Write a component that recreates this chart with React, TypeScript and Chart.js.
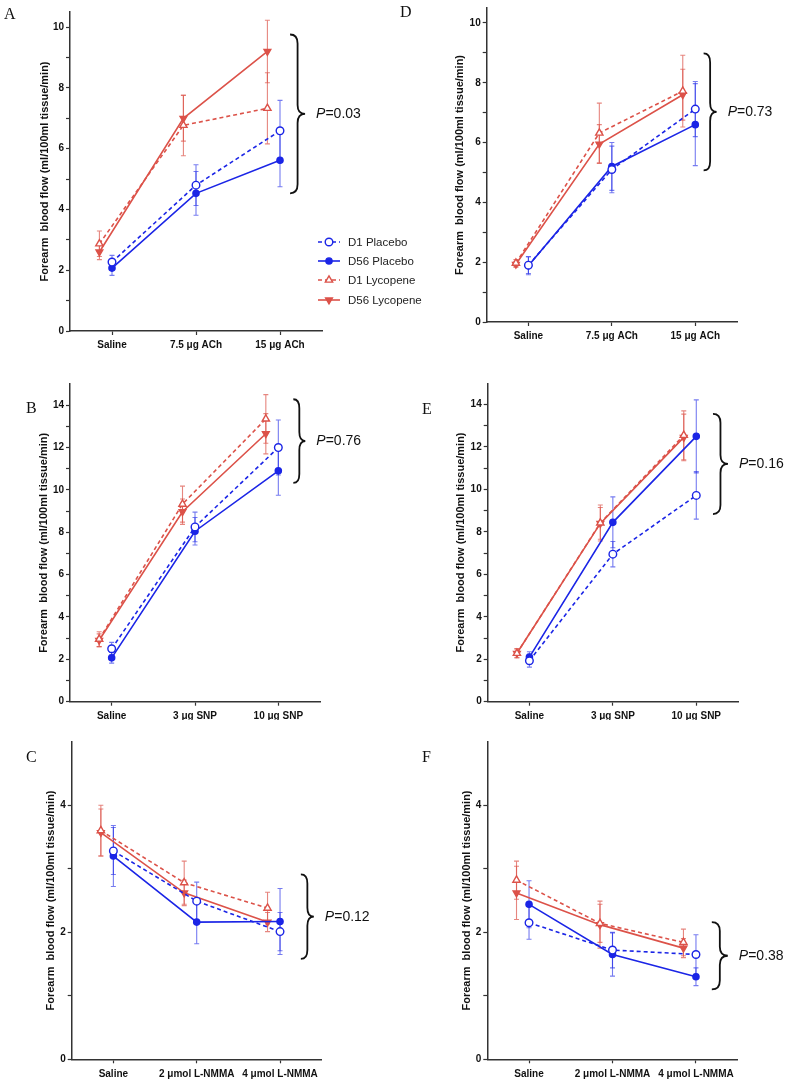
import React, { useEffect, useRef } from 'react';
import { Chart, registerables } from 'chart.js';

Chart.register(...registerables);

// ---------- data ----------
const SERIES_NAMES = ['D1 Placebo', 'D56 Placebo', 'D1 Lycopene', 'D56 Lycopene'];
const CATS_ACH = ['Saline', '7.5 μg ACh', '15 μg ACh'];
const CATS_SNP = ['Saline', '3 μg SNP', '10 μg SNP'];
const CATS_NMMA = ['Saline', '2 μmol L-NMMA', '4 μmol L-NMMA'];
const Y_TICKS_10 = [0, 1, 2, 3, 4, 5, 6, 7, 8, 9, 10];
const Y_TICKS_14 = [0, 1, 2, 3, 4, 5, 6, 7, 8, 9, 10, 11, 12, 13, 14];
const Y_TICKS_4 = [0, 1, 2, 3, 4];
const Y_TITLE = 'Forearm  blood flow (ml/100ml tissue/min)';

// Panel A (ACh, cohort 1)
const A_D1_PLACEBO = [2.27, 4.8, 6.59];
const A_D56_PLACEBO = [2.07, 4.53, 5.62];
const A_D1_LYCOPENE = [2.87, 6.77, 7.33];
const A_D56_LYCOPENE = [2.6, 7.0, 9.2];
const A_ERR_D1_PLACEBO = [0.22, 0.67, 1.0];
const A_ERR_D56_PLACEBO = [0.24, 0.72, 0.87];
const A_ERR_D1_LYCOPENE = [0.42, 1.0, 1.17];
const A_ERR_D56_LYCOPENE = [0.25, 0.75, 1.03];
const A_BRACE = [4.53, 9.76];

// Panel B (SNP, cohort 1)
const B_D1_PLACEBO = [2.5, 8.25, 12.0];
const B_D56_PLACEBO = [2.07, 8.05, 10.9];
const B_D1_LYCOPENE = [2.95, 9.33, 13.35];
const B_D56_LYCOPENE = [2.9, 8.97, 12.65];
const B_ERR_D1_PLACEBO = [0.3, 0.7, 1.3];
const B_ERR_D56_PLACEBO = [0.25, 0.65, 1.15];
const B_ERR_D1_LYCOPENE = [0.35, 0.85, 1.15];
const B_ERR_D56_LYCOPENE = [0.3, 0.6, 0.95];
const B_BRACE = [10.33, 14.28];

// Panel C (L-NMMA, cohort 1)
const C_D1_PLACEBO = [3.28, 2.49, 2.01];
const C_D56_PLACEBO = [3.2, 2.16, 2.17];
const C_D1_LYCOPENE = [3.6, 2.78, 2.38];
const C_D56_LYCOPENE = [3.57, 2.62, 2.16];
const C_ERR_D1_PLACEBO = [0.37, 0.3, 0.3];
const C_ERR_D56_PLACEBO = [0.48, 0.34, 0.52];
const C_ERR_D1_LYCOPENE = [0.4, 0.34, 0.25];
const C_ERR_D56_LYCOPENE = [0.37, 0.2, 0.15];
const C_BRACE = [1.58, 2.91];

// Panel D (ACh, cohort 2)
const D_D1_PLACEBO = [1.9, 5.1, 7.12];
const D_D56_PLACEBO = [1.88, 5.2, 6.6];
const D_D1_LYCOPENE = [1.97, 6.32, 7.72];
const D_D56_LYCOPENE = [1.93, 5.95, 7.6];
const D_ERR_D1_PLACEBO = [0.28, 0.78, 0.92];
const D_ERR_D56_PLACEBO = [0.3, 0.8, 1.37];
const D_ERR_D1_LYCOPENE = [0.12, 1.0, 1.2];
const D_ERR_D56_LYCOPENE = [0.1, 0.65, 0.85];
const D_BRACE = [5.07, 8.98];

// Panel E (SNP, cohort 2)
const E_D1_PLACEBO = [1.93, 6.95, 9.72];
const E_D56_PLACEBO = [2.1, 8.45, 12.5];
const E_D1_LYCOPENE = [2.28, 8.42, 12.55];
const E_D56_LYCOPENE = [2.28, 8.4, 12.45];
const E_ERR_D1_PLACEBO = [0.3, 0.6, 1.12];
const E_ERR_D56_PLACEBO = [0.25, 1.2, 1.72];
const E_ERR_D1_LYCOPENE = [0.22, 0.85, 1.15];
const E_ERR_D56_LYCOPENE = [0.2, 0.75, 1.1];
const E_BRACE = [8.84, 13.56];

// Panel F (L-NMMA, cohort 2)
const F_D1_PLACEBO = [2.15, 1.72, 1.65];
const F_D56_PLACEBO = [2.44, 1.65, 1.3];
const F_D1_LYCOPENE = [2.82, 2.14, 1.84];
const F_D56_LYCOPENE = [2.62, 2.12, 1.75];
const F_ERR_D1_PLACEBO = [0.26, 0.28, 0.31];
const F_ERR_D56_PLACEBO = [0.37, 0.34, 0.14];
const F_ERR_D1_LYCOPENE = [0.3, 0.3, 0.21];
const F_ERR_D56_LYCOPENE = [0.42, 0.37, 0.15];
const F_BRACE = [1.1, 2.16];

const P_VALUES = ['0.03', '0.76', '0.12', '0.73', '0.16', '0.38'];
const PANEL_LETTERS = ['A', 'B', 'C', 'D', 'E', 'F'];

// ---------- styles ----------
const BLUE = '#1b25e6';
const RED = '#dc5249';
const BLUE_ERR = 'rgba(27,37,230,0.6)';
const RED_ERR = 'rgba(220,82,73,0.7)';
const SANS = '"Liberation Sans", Arial, sans-serif';
const SERIF = '"Liberation Serif", "Times New Roman", serif';

const SERIES_STYLE = [
  { color: BLUE, err: BLUE_ERR, dash: [4, 3], pointStyle: 'circle', filled: false, radius: 3.8, rotation: 0, dx: 0 },
  { color: BLUE, err: BLUE_ERR, dash: [], pointStyle: 'circle', filled: true, radius: 3.1, rotation: 0, dx: 0 },
  { color: RED, err: RED_ERR, dash: [4, 3], pointStyle: 'triangle', filled: false, radius: 4.2, rotation: 0, dx: -0.15 },
  { color: RED, err: RED_ERR, dash: [], pointStyle: 'triangle', filled: true, radius: 3.9, rotation: 180, dx: -0.15 },
];

type PanelCfg = {
  letter: string;
  cats: string[];
  series: number[][];
  errors: number[][];
  yTicks: number[];
  yMax: number;
  brace: number[];
  p: string;
  x: number; y: number; w: number; h: number;
  left: number; right: number; top: number; bottom: number;
  titleCenter: number;
  braceX: number;
  braceW: number;
  letterX: number; letterY: number;
};

const PANELS: PanelCfg[] = [
  {
    letter: PANEL_LETTERS[0], cats: CATS_ACH,
    series: [A_D1_PLACEBO, A_D56_PLACEBO, A_D1_LYCOPENE, A_D56_LYCOPENE],
    errors: [A_ERR_D1_PLACEBO, A_ERR_D56_PLACEBO, A_ERR_D1_LYCOPENE, A_ERR_D56_LYCOPENE],
    yTicks: Y_TICKS_10, yMax: 10.5, brace: A_BRACE, p: P_VALUES[0],
    x: 0, y: 0, w: 390, h: 360, left: 70, right: 322, top: 12, bottom: 331, titleCenter: 44.5,
    braceX: 2.12, braceW: 15, letterX: 4, letterY: 19,
  },
  {
    letter: PANEL_LETTERS[1], cats: CATS_SNP,
    series: [B_D1_PLACEBO, B_D56_PLACEBO, B_D1_LYCOPENE, B_D56_LYCOPENE],
    errors: [B_ERR_D1_PLACEBO, B_ERR_D56_PLACEBO, B_ERR_D1_LYCOPENE, B_ERR_D56_LYCOPENE],
    yTicks: Y_TICKS_14, yMax: 15, brace: B_BRACE, p: P_VALUES[1],
    x: 0, y: 360, w: 390, h: 360, left: 70, right: 320, top: 24, bottom: 341.7, titleCenter: 43.5,
    braceX: 2.18, braceW: 12, letterX: 26, letterY: 53,
  },
  {
    letter: PANEL_LETTERS[2], cats: CATS_NMMA,
    series: [C_D1_PLACEBO, C_D56_PLACEBO, C_D1_LYCOPENE, C_D56_LYCOPENE],
    errors: [C_ERR_D1_PLACEBO, C_ERR_D56_PLACEBO, C_ERR_D1_LYCOPENE, C_ERR_D56_LYCOPENE],
    yTicks: Y_TICKS_4, yMax: 5, brace: C_BRACE, p: P_VALUES[2],
    x: 0, y: 720, w: 390, h: 366, left: 71.7, right: 321.7, top: 21.7, bottom: 339.3, titleCenter: 51,
    braceX: 2.25, braceW: 13, letterX: 26, letterY: 42,
  },
  {
    letter: PANEL_LETTERS[3], cats: CATS_ACH,
    series: [D_D1_PLACEBO, D_D56_PLACEBO, D_D1_LYCOPENE, D_D56_LYCOPENE],
    errors: [D_ERR_D1_PLACEBO, D_ERR_D56_PLACEBO, D_ERR_D1_LYCOPENE, D_ERR_D56_LYCOPENE],
    yTicks: Y_TICKS_10, yMax: 10.5, brace: D_BRACE, p: P_VALUES[3],
    x: 390, y: 0, w: 395, h: 360, left: 96.7, right: 347, top: 4, bottom: 322, titleCenter: 70.3,
    braceX: 2.1, braceW: 13, letterX: 10, letterY: 17,
  },
  {
    letter: PANEL_LETTERS[4], cats: CATS_SNP,
    series: [E_D1_PLACEBO, E_D56_PLACEBO, E_D1_LYCOPENE, E_D56_LYCOPENE],
    errors: [E_ERR_D1_PLACEBO, E_ERR_D56_PLACEBO, E_ERR_D1_LYCOPENE, E_ERR_D56_LYCOPENE],
    yTicks: Y_TICKS_14, yMax: 15, brace: E_BRACE, p: P_VALUES[4],
    x: 390, y: 360, w: 395, h: 360, left: 97.7, right: 348, top: 23.3, bottom: 341.7, titleCenter: 70.8,
    braceX: 2.2, braceW: 15, letterX: 32, letterY: 54,
  },
  {
    letter: PANEL_LETTERS[5], cats: CATS_NMMA,
    series: [F_D1_PLACEBO, F_D56_PLACEBO, F_D1_LYCOPENE, F_D56_LYCOPENE],
    errors: [F_ERR_D1_PLACEBO, F_ERR_D56_PLACEBO, F_ERR_D1_LYCOPENE, F_ERR_D56_LYCOPENE],
    yTicks: Y_TICKS_4, yMax: 5, brace: F_BRACE, p: P_VALUES[5],
    x: 390, y: 720, w: 395, h: 366, left: 97.3, right: 347.7, top: 21.7, bottom: 339.3, titleCenter: 77,
    braceX: 2.19, braceW: 16, letterX: 32, letterY: 42,
  },
];

function drawBrace(ctx: CanvasRenderingContext2D, x: number, top: number, bot: number, w: number) {
  const mid = (top + bot) / 2;
  const sx = x + w * 0.5;
  const r = Math.min(9, (bot - top) / 6);
  ctx.beginPath();
  ctx.moveTo(x, top);
  ctx.quadraticCurveTo(sx, top, sx, top + r);
  ctx.lineTo(sx, mid - r);
  ctx.quadraticCurveTo(sx, mid, x + w, mid);
  ctx.quadraticCurveTo(sx, mid, sx, mid + r);
  ctx.lineTo(sx, bot - r);
  ctx.quadraticCurveTo(sx, bot, x, bot);
  ctx.stroke();
}

function Panel({ cfg }: { cfg: PanelCfg }) {
  const ref = useRef<HTMLCanvasElement>(null);
  useEffect(() => {
    const datasets = cfg.series.map((vals, si) => {
      const st = SERIES_STYLE[si];
      return {
        label: SERIES_NAMES[si],
        data: vals.map((v, i) => ({ x: i + st.dx, y: v })),
        borderColor: st.color,
        backgroundColor: st.filled ? st.color : '#ffffff',
        borderWidth: 1.6,
        borderDash: st.dash,
        pointStyle: st.pointStyle,
        pointRadius: st.radius,
        pointRotation: st.rotation,
        pointBorderWidth: 1.4,
        pointBorderColor: st.color,
        pointBackgroundColor: st.filled ? st.color : '#ffffff',
        tension: 0,
        showLine: true,
        errs: cfg.errors[si],
        errColor: st.err,
      };
    });

    const annot = {
      id: 'annot',
      beforeDatasetsDraw(chart: any) {
        const ctx = chart.ctx;
        const ys = chart.scales.y;
        ctx.save();
        chart.data.datasets.forEach((ds: any, di: number) => {
          const meta = chart.getDatasetMeta(di);
          ctx.strokeStyle = ds.errColor;
          ctx.lineWidth = 1.1;
          meta.data.forEach((el: any, j: number) => {
            const v = ds.data[j].y;
            const e = ds.errs[j];
            const yt = ys.getPixelForValue(v + e);
            const yb = ys.getPixelForValue(v - e);
            const x = el.x;
            ctx.beginPath();
            ctx.moveTo(x, yt); ctx.lineTo(x, yb);
            ctx.moveTo(x - 2.5, yt); ctx.lineTo(x + 2.5, yt);
            ctx.moveTo(x - 2.5, yb); ctx.lineTo(x + 2.5, yb);
            ctx.stroke();
          });
        });
        ctx.restore();
      },
      afterDraw(chart: any) {
        const ctx = chart.ctx;
        const xs = chart.scales.x;
        const ys = chart.scales.y;
        ctx.save();
        const bx = xs.getPixelForValue(cfg.braceX);
        const top = ys.getPixelForValue(cfg.brace[1]);
        const bot = ys.getPixelForValue(cfg.brace[0]);
        ctx.strokeStyle = '#111';
        ctx.lineWidth = 1.8;
        drawBrace(ctx, bx, top, bot, cfg.braceW);
        const mid = (top + bot) / 2;
        const tx = bx + cfg.braceW + 11;
        ctx.fillStyle = '#111';
        ctx.textBaseline = 'middle';
        ctx.textAlign = 'left';
        ctx.font = `italic 14px ${SANS}`;
        ctx.fillText('P', tx, mid);
        const pw = ctx.measureText('P').width;
        ctx.font = `14px ${SANS}`;
        ctx.fillText('=' + cfg.p, tx + pw, mid);
        ctx.font = `16px ${SERIF}`;
        ctx.textBaseline = 'alphabetic';
        ctx.fillText(cfg.letter, cfg.letterX, cfg.letterY);
        ctx.restore();
      },
    };

    const chart = new Chart(ref.current!, {
      type: 'line',
      data: { datasets: datasets as any },
      plugins: [annot],
      options: {
        responsive: false,
        animation: false,
        devicePixelRatio: 1,
        layout: {
          padding: { left: 0, top: cfg.top, right: cfg.w - cfg.right, bottom: 0 },
        },
        plugins: {
          legend: { display: false },
          tooltip: { enabled: false },
        },
        scales: {
          x: {
            type: 'linear',
            min: -0.5,
            max: 2.5,
            afterBuildTicks: (s: any) => {
              s.ticks = cfg.cats.map((_, i) => ({ value: i }));
            },
            afterFit: (s: any) => {
              s.height = cfg.h - cfg.bottom;
            },
            ticks: {
              autoSkip: false,
              maxRotation: 0,
              minRotation: 0,
              padding: 4.5,
              color: '#111',
              font: { family: SANS, size: 10, weight: 'bold' },
              callback: (v: any) => cfg.cats[Math.round(Number(v))] ?? '',
            },
            grid: { drawOnChartArea: false, tickLength: 4, tickColor: '#333', tickWidth: 1.2 },
            border: { color: '#333', width: 1.5 },
          },
          y: {
            type: 'linear',
            min: 0,
            max: cfg.yMax,
            afterBuildTicks: (s: any) => {
              s.ticks = cfg.yTicks.map((v) => ({ value: v }));
            },
            afterFit: (s: any) => {
              s.width = cfg.left;
            },
            ticks: {
              padding: 2,
              color: '#111',
              font: { family: SANS, size: 10, weight: 'bold' },
              callback: (v: any) => (Number(v) % 2 === 0 ? String(v) : ''),
            },
            grid: { drawOnChartArea: false, tickLength: 4, tickColor: '#333', tickWidth: 1.2 },
            border: { color: '#333', width: 1.5 },
            title: {
              display: true,
              text: Y_TITLE,
              color: '#111',
              font: { family: SANS, size: 11, weight: 'bold' },
              padding: { top: cfg.titleCenter - 6.6, bottom: 0 },
            },
          },
        },
      } as any,
    });
    return () => chart.destroy();
  }, [cfg]);

  return (
    <div style={{ position: 'absolute', left: cfg.x, top: cfg.y, width: cfg.w, height: cfg.h }}>
      <canvas ref={ref} width={cfg.w} height={cfg.h} style={{ width: cfg.w, height: cfg.h, display: 'block' }} />
    </div>
  );
}

function LegendMarker({ si }: { si: number }) {
  const st = SERIES_STYLE[si];
  const cx = 11;
  const cy = 6;
  let marker: React.ReactNode;
  if (st.pointStyle === 'circle') {
    marker = (
      <circle cx={cx} cy={cy} r={st.radius} fill={st.filled ? st.color : '#fff'} stroke={st.color} strokeWidth={1.4} />
    );
  } else {
    const r = st.radius;
    const up = st.rotation === 0;
    const pts = up
      ? `${cx},${cy - r} ${cx - r * 0.87},${cy + r * 0.5} ${cx + r * 0.87},${cy + r * 0.5}`
      : `${cx},${cy + r} ${cx - r * 0.87},${cy - r * 0.5} ${cx + r * 0.87},${cy - r * 0.5}`;
    marker = <polygon points={pts} fill={st.filled ? st.color : '#fff'} stroke={st.color} strokeWidth={1.4} />;
  }
  return (
    <svg width={24} height={12} style={{ display: 'block' }}>
      <line x1={0} y1={cy} x2={22} y2={cy} stroke={st.color} strokeWidth={1.6} strokeDasharray={st.dash.length ? '4 3' : undefined} />
      {marker}
    </svg>
  );
}

function Legend() {
  return (
    <div style={{ position: 'absolute', left: 318, top: 232, fontFamily: SANS, fontSize: 11.5, color: '#222' }}>
      {SERIES_NAMES.map((name, si) => (
        <div key={name} style={{ display: 'flex', alignItems: 'center', height: 19.4 }}>
          <LegendMarker si={si} />
          <span style={{ marginLeft: 6, whiteSpace: 'nowrap' }}>{name}</span>
        </div>
      ))}
    </div>
  );
}

export default function App() {
  return (
    <div style={{ position: 'absolute', left: 0, top: 0, width: 785, height: 1086, overflow: 'hidden', background: '#fff' }}>
      {PANELS.map((p) => (
        <Panel key={p.letter} cfg={p} />
      ))}
      <Legend />
    </div>
  );
}
